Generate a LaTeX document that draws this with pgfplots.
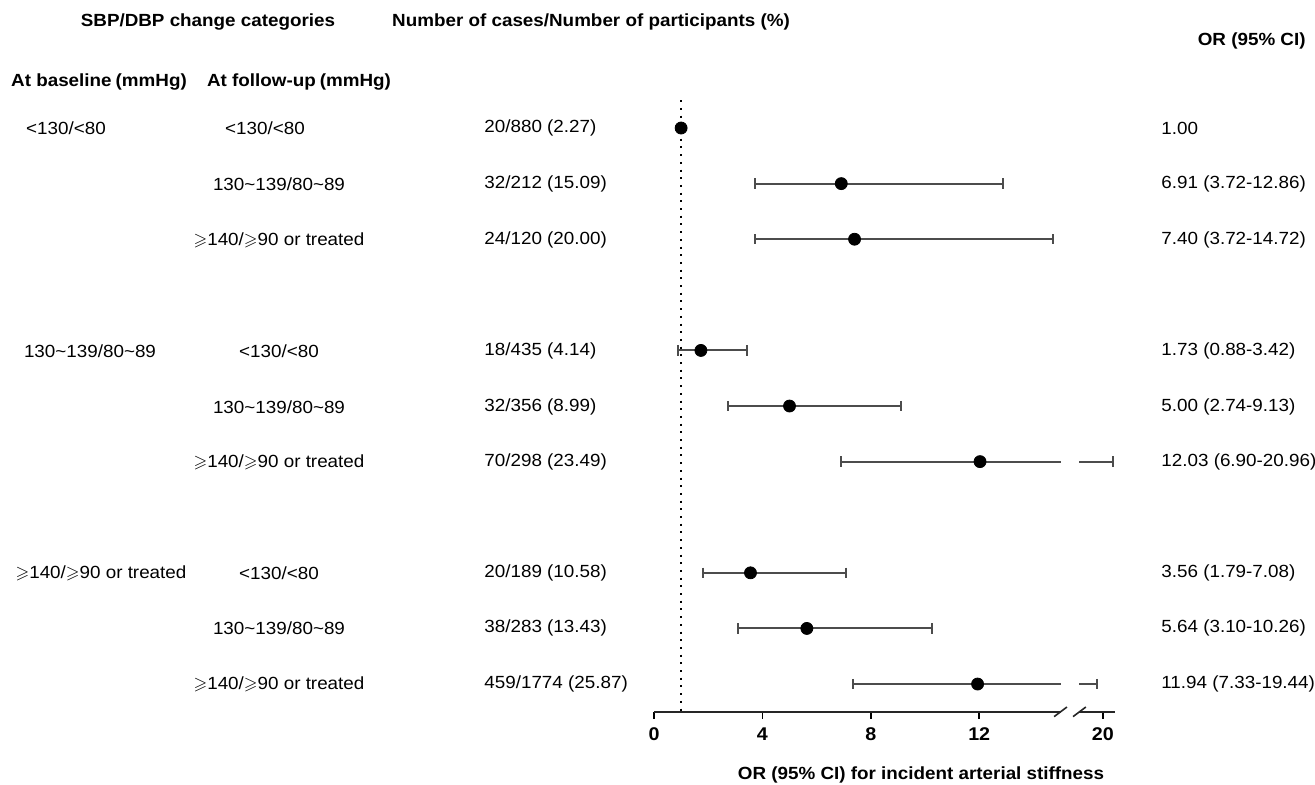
\documentclass[border=0pt]{standalone}
\usepackage{fontspec}
\setmainfont{Liberation Sans}[FakeStretch=1.07]
\usepackage{amssymb}
\usepackage{pgfplots}
\pgfplotsset{compat=1.18}

\newcommand{\gs}{$\geqslant$}
\newcommand{\tl}{\textasciitilde}

\begin{document}
\begin{tikzpicture}[
  txt/.style={font=\fontsize{8.8}{10}\selectfont, inner sep=0pt},
  hdr/.style={font=\fontsize{8.8}{10}\selectfont\bfseries, inner sep=0pt}]
\begin{axis}[
  at={(327pt,-355.9pt)}, anchor=south west,
  scale only axis,
  x=13.55pt, y=27.8pt,
  % broken axis: 0..15 at full scale, 17.9..21.1 compressed
  x coord trafo/.code={\pgfmathparse{#1<=15 ? #1 : 16.56+(#1-20)*0.41}},
  xmin=0, xmax=21.1, ymin=0.5, ymax=11.5, y dir=reverse,
  hide y axis,
  axis line style={draw=none},
  xtick pos=bottom,
  xtick={0,4,8,12,20}, xticklabels={0,4,8,12,20},
  xticklabel style={font=\fontsize{9.2}{10}\selectfont\bfseries, yshift=-1pt},
  tick align=outside, major tick length=3.5pt,
  tick style={black, line width=0.8pt},
  clip=false,
]
% confidence intervals
\pgfplotsset{ci/.style={black!70, line width=1pt, mark=|, mark size=2.6pt, mark options={solid}}}
\addplot[ci] coordinates {(3.72,2) (12.86,2)};
\addplot[ci] coordinates {(3.72,3) (14.72,3)};
\addplot[ci] coordinates {(0.88,5) (3.42,5)};
\addplot[ci] coordinates {(2.74,6) (9.13,6)};
\addplot[ci, mark indices={1}] coordinates {(6.90,7) (15,7)};
\addplot[ci, mark indices={2}] coordinates {(17.9,7) (20.96,7)};
\addplot[ci] coordinates {(1.79,9) (7.08,9)};
\addplot[ci] coordinates {(3.10,10) (10.26,10)};
\addplot[ci, mark indices={1}] coordinates {(7.33,11) (15,11)};
\addplot[ci, mark indices={2}] coordinates {(17.9,11) (19.44,11)};
% reference line at OR = 1
\addplot[black, line width=1pt, dash pattern=on 1pt off 2.85pt] coordinates {(1,0.5) (1,11.5)};
% point estimates
\addplot[only marks, mark=*, mark size=3pt, black] coordinates {
  (1.00,1) (6.91,2) (7.40,3) (1.73,5) (5.00,6) (12.03,7) (3.56,9) (5.64,10) (11.94,11)};
% axis line with break
\draw[black!85, line width=0.8pt] (axis cs:0,11.5) -- (axis cs:15,11.5);
\draw[black!85, line width=0.8pt] (axis cs:17.9,11.5) -- (axis cs:21.1,11.5);
\draw[black!85, line width=0.8pt] ([shift={(-3.2pt,-2.4pt)}]axis cs:15,11.5) -- ++(6.4pt,4.8pt);
\draw[black!85, line width=0.8pt] ([shift={(-3.2pt,-2.4pt)}]axis cs:17.9,11.5) -- ++(6.4pt,4.8pt);
\end{axis}

\begin{scope}[x=0.5pt,y=-0.5pt]
\useasboundingbox (0,0) rectangle (1315,784);
% column headers
\node[hdr] at (208,22) {SBP/DBP change categories};
\node[hdr] at (591,22) {Number of cases/Number of participants (\%)};
\node[hdr, anchor=east] at (1306,41) {OR (95\% CI)};
\node[hdr] at (99,82) {At baseline\kern2pt(mmHg)};
\node[hdr] at (299,82) {At follow-up\kern2pt(mmHg)};
\node[hdr] at (921,775) {OR (95\% CI) for incident arterial stiffness};

% baseline categories
\node[txt] at (66,128) {<130/<80};
\node[txt] at (90,351) {130\tl139/80\tl89};
\node[txt] at (101,573) {\gs140/\gs90 or treated};

% follow-up categories
\node[txt] at (265,128) {<130/<80};
\node[txt] at (279,184) {130\tl139/80\tl89};
\node[txt] at (279,240) {\gs140/\gs90 or treated};
\node[txt] at (279,351) {<130/<80};
\node[txt] at (279,407) {130\tl139/80\tl89};
\node[txt] at (279,462) {\gs140/\gs90 or treated};
\node[txt] at (279,573) {<130/<80};
\node[txt] at (279,628) {130\tl139/80\tl89};
\node[txt] at (279,684) {\gs140/\gs90 or treated};

% cases / participants
\node[txt, anchor=west] at (484,128) {20/880 (2.27)};
\node[txt, anchor=west] at (484,184) {32/212 (15.09)};
\node[txt, anchor=west] at (484,240) {24/120 (20.00)};
\node[txt, anchor=west] at (484,351) {18/435 (4.14)};
\node[txt, anchor=west] at (484,407) {32/356 (8.99)};
\node[txt, anchor=west] at (484,462) {70/298 (23.49)};
\node[txt, anchor=west] at (484,573) {20/189 (10.58)};
\node[txt, anchor=west] at (484,628) {38/283 (13.43)};
\node[txt, anchor=west] at (484,684) {459/1774 (25.87)};

% OR (95% CI)
\node[txt, anchor=west] at (1161,128) {1.00};
\node[txt, anchor=west] at (1161,184) {6.91 (3.72-12.86)};
\node[txt, anchor=west] at (1161,240) {7.40 (3.72-14.72)};
\node[txt, anchor=west] at (1161,351) {1.73 (0.88-3.42)};
\node[txt, anchor=west] at (1161,407) {5.00 (2.74-9.13)};
\node[txt, anchor=west] at (1161,462) {12.03 (6.90-20.96)};
\node[txt, anchor=west] at (1161,573) {3.56 (1.79-7.08)};
\node[txt, anchor=west] at (1161,628) {5.64 (3.10-10.26)};
\node[txt, anchor=west] at (1161,684) {11.94 (7.33-19.44)};
\end{scope}
\end{tikzpicture}
\end{document}
